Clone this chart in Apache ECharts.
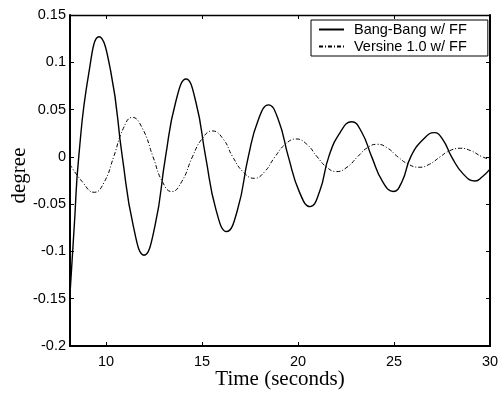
<!DOCTYPE html>
<html>
<head>
<meta charset="utf-8">
<script src="https://cdn.jsdelivr.net/npm/echarts@6/dist/echarts.min.js"></script>
<style>html,body{margin:0;padding:0;background:#fff}#c{width:503px;height:394px}</style>
</head>
<body>
<div id="c"></div>
<script>
// Data
var bangTime = [8.125, 8.35, 8.58, 9.1, 9.635, 10.25, 10.85, 11.42, 11.98, 12.55, 13.1, 13.63, 14.17, 14.68, 15.19, 15.73, 16.28, 16.85, 17.41, 17.93, 18.46, 18.98, 19.5, 20.07, 20.63, 21.12, 21.6, 22.2, 22.8, 23.32, 23.84, 24.4, 24.97, 25.42, 25.87, 26.5, 27.1, 27.55, 28.0, 28.6, 29.22, 29.6, 30];
var bangValues = [-0.145, -0.072, 0, 0.088, 0.127, 0.09, 0, -0.073, -0.104, -0.073, 0, 0.058, 0.0823, 0.058, 0, -0.056, -0.079, -0.056, 0, 0.039, 0.055, 0.039, 0, -0.037, -0.0526, -0.037, 0, 0.026, 0.0372, 0.026, 0, -0.026, -0.0367, -0.026, 0, 0.018, 0.0256, 0.018, 0, -0.018, -0.0255, -0.021, -0.013];
var versTime = [8.125, 8.75, 9.39, 9.9, 10.4, 10.9, 11.37, 11.9, 12.45, 12.93, 13.42, 13.95, 14.5, 15.0, 15.54, 16.1, 16.6, 17.15, 17.73, 18.25, 18.8, 19.35, 19.9, 20.45, 21.0, 21.5, 22.0, 22.55, 23.1, 23.6, 24.13, 24.65, 25.2, 25.75, 26.3, 26.85, 27.4, 27.9, 28.46, 29.0, 29.6, 30];
var versValues = [-0.008, -0.026, -0.0375, -0.027, 0, 0.03, 0.0418, 0.03, 0, -0.026, -0.0367, -0.026, 0, 0.019, 0.0274, 0.019, 0, -0.016, -0.0227, -0.016, 0, 0.0135, 0.0189, 0.0135, 0, -0.011, -0.0156, -0.011, 0, 0.0095, 0.0133, 0.0095, 0, -0.0078, -0.011, -0.0078, 0, 0.0065, 0.0091, 0.0065, 0, -0.0025];
var xTicks = [10, 15, 20, 25, 30];
var seriesNames = ['Bang-Bang w/ FF', 'Versine 1.0 w/ FF'];

function pairs(t, v) { return t.map(function (x, i) { return [x, v[i]]; }); }

var chart = echarts.init(document.getElementById('c'), null, {renderer: 'canvas'});
var tickFont = {fontFamily: 'Liberation Sans', fontSize: 14.5, color: '#000'};
var lineCol = '#000';
chart.setOption({
  animation: false,
  backgroundColor: '#fff',
  grid: {left: 70, top: 15, right: 13, bottom: 48, show: false, containLabel: false, outerBoundsMode: 'none'},
  legend: {
    data: seriesNames,
    orient: 'vertical',
    left: 311, top: 20,
    itemWidth: 25, itemHeight: 12, itemGap: 2,
    padding: [2, 21, 2, 7],
    borderColor: '#000', borderWidth: 1, borderRadius: 0,
    backgroundColor: '#fff',
    itemStyle: {opacity: 0, borderWidth: 0},
    textStyle: {fontFamily: 'Liberation Sans', fontSize: 14.5, color: '#000', padding: [0, 0, 0, 5]}
  },
  xAxis: [{
    type: 'value', min: 8.125, max: 30, position: 'bottom',
    name: 'Time (seconds)', nameLocation: 'middle', nameGap: 23, nameMoveOverlap: false,
    nameTextStyle: {fontFamily: 'Liberation Serif', fontSize: 21, color: '#000'},
    axisLine: {onZero: false, lineStyle: {color: lineCol, width: 2}},
    axisTick: {inside: true, length: 4, lineStyle: {color: lineCol}, customValues: xTicks},
    axisLabel: Object.assign({margin: 8, customValues: xTicks}, tickFont),
    splitLine: {show: false}
  }, {
    type: 'value', min: 8.125, max: 30, position: 'top',
    axisLine: {onZero: false, lineStyle: {color: lineCol, width: 1.3}},
    axisTick: {inside: true, length: 4, lineStyle: {color: lineCol}, customValues: xTicks},
    axisLabel: {show: false},
    splitLine: {show: false}
  }],
  yAxis: [{
    type: 'value', min: -0.2, max: 0.15, interval: 0.05, position: 'left',
    name: 'degree', nameLocation: 'middle', nameGap: 40, nameMoveOverlap: false,
    nameTextStyle: {fontFamily: 'Liberation Serif', fontSize: 21, color: '#000', padding: [0, 0, 0, 10]},
    axisLine: {show: true, onZero: false, lineStyle: {color: lineCol, width: 2}},
    axisTick: {show: true, inside: true, length: 4, lineStyle: {color: lineCol}},
    axisLabel: Object.assign({margin: 4, formatter: function (v) { return String(parseFloat(v.toFixed(2))); }}, tickFont),
    splitLine: {show: false}
  }, {
    type: 'value', min: -0.2, max: 0.15, interval: 0.05, position: 'right',
    axisLine: {show: true, onZero: false, lineStyle: {color: lineCol, width: 2}},
    axisTick: {show: true, inside: true, length: 4, lineStyle: {color: lineCol}},
    axisLabel: {show: false},
    splitLine: {show: false}
  }],
  series: [{
    name: seriesNames[0], type: 'line', data: pairs(bangTime, bangValues),
    smooth: 0.5, symbol: 'none', xAxisIndex: 0, yAxisIndex: 0,
    lineStyle: {color: '#000', width: 1.4, type: 'solid'},
    itemStyle: {color: '#000'}
  }, {
    name: seriesNames[1], type: 'line', data: pairs(versTime, versValues),
    smooth: 0.5, symbol: 'none', xAxisIndex: 0, yAxisIndex: 0,
    lineStyle: {color: '#000', width: 1, type: [4, 2, 1, 2]},
    itemStyle: {color: '#000'}
  }]
});
</script>
</body>
</html>
